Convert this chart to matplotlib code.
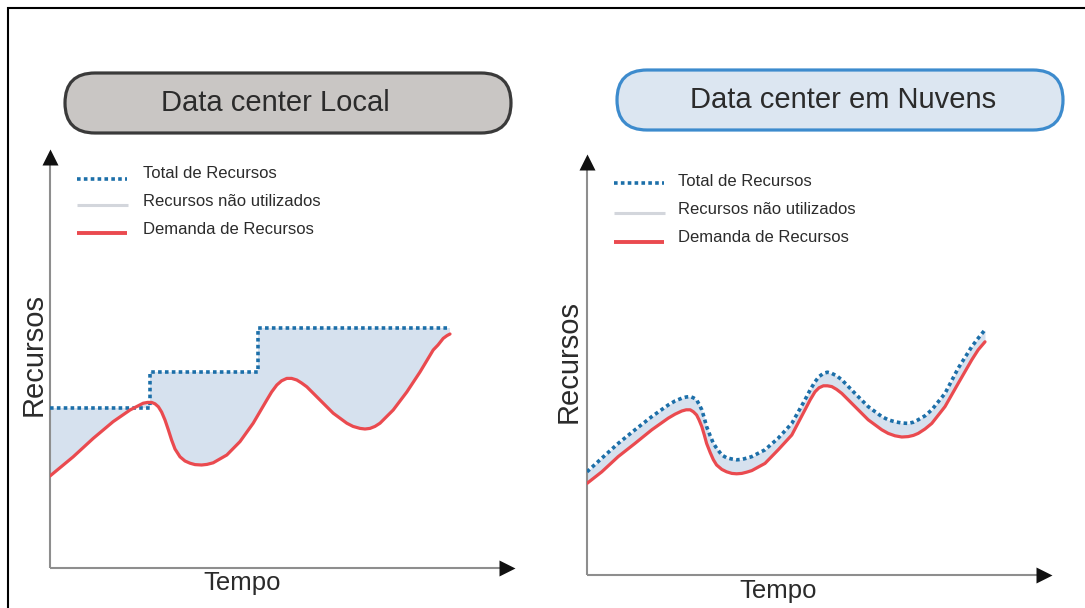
import numpy as np
import matplotlib
matplotlib.use("Agg")
import matplotlib.pyplot as plt
from matplotlib.patches import FancyBboxPatch

plt.rcParams['font.family'] = ['Liberation Sans', 'DejaVu Sans']

# ------------------------------------------------------------------
# Dados (tempo 0-100, recursos em unidades arbitrárias)
# Data center Local
local_total_x = [0, 25, 52, 100]
local_total_y = [40, 49, 60, 60]

local_demanda_x = [0, 5.8, 10.8, 15.8, 20, 21.75, 23.3, 24.4, 25.4, 26.25,
                   27.1, 27.9, 28.75, 29.6, 30.4, 31.25, 32.5, 33.75, 35,
                   36.25, 37.9, 39.25, 40.8, 44.2, 47.5, 50.8, 54.2, 55.4,
                   56.7, 57.9, 59.2, 60.4, 61.7, 62.9, 64.2, 67.5, 70.8, 74.2,
                   75.75, 77.5, 78.75, 80, 81.25, 82.5, 85.8, 89.2, 92.5, 95.8,
                   97, 98.3, 99.25, 100]
local_demanda_y = [23, 27.8, 32.4, 36.6, 39.5, 40.4, 41.2, 41.4, 41.4, 41.05,
                   40.3, 39, 37, 34.5, 32, 29.75, 27.8, 26.75, 26.2,
                   25.85, 25.75, 25.9, 26.3, 28.25, 31.6, 36.2, 42, 44,
                   45.75, 46.8, 47.4, 47.4, 47, 46.25, 45.3, 42, 38.7, 36.2,
                   35.4, 34.9, 34.75, 34.9, 35.4, 36.2, 39.5, 44, 49, 54.5,
                   55.75, 57.4, 58.1, 58.5]

# Data center em Nuvens
nuvem_x = [0, 3.7, 7.8, 12, 16.2, 20.3, 22, 23.7, 24.8, 25.8, 26.6, 27.4, 28,
           28.7, 29.3, 29.9, 30.8, 31.6, 32.4, 33.7, 34.9, 36.2, 37.4, 38.7,
           39.9, 41.2, 44.5, 47.8, 51.2, 54.5, 55.8, 57, 58, 59.1, 60.1, 61.2,
           62.4, 63.7, 67, 70.3, 73.7, 75.3, 77, 78.7, 80.3, 81.6, 82.8, 84.5,
           86.2, 89.5, 92.8, 96.2, 97.8, 99.5]
nuvem_total = [25.8, 29.2, 32.9, 36.3, 39.6, 42.5, 43.5, 44.2, 44.5, 44.6,
               44.3, 43.8, 42.7, 41.3, 39.3, 37.1, 34.8, 32.9, 31.7, 30, 29.3,
               29, 28.8, 28.9, 29.2, 29.6, 31.3, 34.2, 37.9, 43.8, 46.3, 48.3,
               49.6, 50.4, 50.7, 50.4, 49.8, 48.8, 45.4, 42.1, 39.6, 38.8,
               38.3, 38, 37.9, 38.2, 38.8, 39.8, 41.3, 45.4, 51.7, 57.1, 59.2,
               61.3]
nuvem_demanda = [22.9, 25.8, 29.6, 32.9, 36.3, 39.2, 40.2, 41, 41.3, 41.3,
                 40.8, 40, 38.8, 37.1, 35.1, 32.9, 30.6, 28.8, 27.5, 26.4,
                 25.8, 25.4, 25.3, 25.4, 25.7, 26.1, 27.9, 31.3, 35, 41.3,
                 43.8, 45.8, 46.8, 47.3, 47.3, 47.1, 46.4, 45.4, 42.1, 38.8,
                 36.3, 35.4, 34.8, 34.5, 34.6, 34.9, 35.4, 36.5, 37.9, 42.1,
                 47.9, 53.8, 56.3, 58.3]

titulos = ["Data center Local", "Data center em Nuvens"]
legendas = ["Total de Recursos", "Recursos não utilizados", "Demanda de Recursos"]
rotulo_y = "Recursos"
rotulo_x = "Tempo"

# ------------------------------------------------------------------
# Cores
AZUL = '#1c6fa9'
VERMELHO = '#ea4a4f'
PREENCHIMENTO = '#d6e1ee'
CINZA_LEG = '#d3d6dc'
CINZA_EIXO = '#8e8e8e'
TEXTO = '#2b2b2b'
PONTILHADO = (0, (1, 0.9))

W, H = 1085, 608
fig = plt.figure(figsize=(W / 100, H / 100), dpi=100)

# eixo de fundo em pixels (moldura, títulos, legendas)
bg = fig.add_axes([0, 0, 1, 1], zorder=0)
bg.set_xlim(0, W)
bg.set_ylim(H, 0)
bg.axis('off')

# moldura (só esquerda e topo)
bg.plot([7.7, 7.7, W], [H, 7.7, 7.7], color='black', lw=1.5,
        solid_capstyle='butt', solid_joinstyle='miter')

# cápsulas dos títulos
caps = [
    dict(x=65, y=73, w=446, h=60, face='#c9c6c4', edge='#3a3a3a', tx=275, ty=103),
    dict(x=617, y=70, w=446, h=60, face='#dce6f1', edge='#3d8bcd', tx=843, ty=100),
]
for c, titulo in zip(caps, titulos):
    p = FancyBboxPatch((c['x'], c['y']), c['w'], c['h'],
                       boxstyle=f"round,pad=0,rounding_size={c['h'] / 2}",
                       facecolor=c['face'], edgecolor=c['edge'], lw=2.3)
    bg.add_patch(p)
    bg.text(c['tx'], c['ty'], titulo, fontsize=21, color=TEXTO,
            ha='center', va='center')

# legendas desenhadas à mão
leg_pos = [
    dict(x0=77, x1=127, tx=143, rows=[(179, 174), (205, 202), (233, 229)]),
    dict(x0=614, x1=664, tx=678, rows=[(183, 181), (213, 209), (242, 237)]),
]
for lp in leg_pos:
    (y0, t0), (y1, t1), (y2, t2) = lp['rows']
    bg.plot([lp['x0'], lp['x1']], [y0, y0], color=AZUL, lw=2.6,
            linestyle=PONTILHADO)
    bg.plot([lp['x0'], lp['x1'] + 1], [y1, y1], color=CINZA_LEG, lw=2.2,
            solid_capstyle='butt')
    bg.plot([lp['x0'], lp['x1']], [y2, y2], color=VERMELHO, lw=2.8,
            solid_capstyle='butt')
    for t, txt in zip((t0, t1, t2), legendas):
        bg.text(lp['tx'], t, txt, fontsize=12, color=TEXTO, ha='left',
                va='center')


def eixos(ax, ytop):
    ax.set_xlim(0, 116)
    ax.set_ylim(0, ytop)
    ax.axis('off')
    # eixos com setas
    ax.plot([0, 113], [0, 0], color=CINZA_EIXO, lw=1.5, clip_on=False,
            solid_capstyle='butt')
    ax.plot([0, 0], [0, ytop - 3], color=CINZA_EIXO, lw=1.5, clip_on=False,
            solid_capstyle='butt')
    ax.plot([114.2], [0], marker='>', ms=12, color='#111111', mec='none',
            clip_on=False)
    ax.plot([0], [ytop - 2.2], marker='^', ms=12, color='#111111', mec='none',
            clip_on=False)


# ---- Painel esquerdo: Data center Local
ax1 = fig.add_axes([50 / W, (H - 568) / H, 464 / W, 420 / H], zorder=1)
eixos(ax1, 105)
sx = np.repeat(local_total_x, 2)[1:]
sy = np.repeat(local_total_y, 2)[:-1]
ax1.fill(np.concatenate([sx, local_demanda_x[::-1]]),
         np.concatenate([sy, local_demanda_y[::-1]]),
         color=PREENCHIMENTO, lw=0)
ax1.step(local_total_x, local_total_y, where='post', color=AZUL, lw=2.6,
         linestyle=PONTILHADO)
ax1.plot(local_demanda_x, local_demanda_y, color=VERMELHO, lw=2.3,
         solid_joinstyle='round', solid_capstyle='round')
ax1.text(-4, 53.5, rotulo_y, rotation=90, fontsize=21, color=TEXTO,
         ha='center', va='center')
ax1.text(48, -3.8, rotulo_x, fontsize=18.5, color=TEXTO, ha='center',
         va='center')

# ---- Painel direito: Data center em Nuvens
ax2 = fig.add_axes([587 / W, (H - 575) / H, 464 / W, 422 / H], zorder=1)
eixos(ax2, 105.5)
ax2.fill_between(nuvem_x, nuvem_demanda, nuvem_total, color=PREENCHIMENTO,
                 lw=0)
ax2.plot(nuvem_x, nuvem_total, color=AZUL, lw=2.6, linestyle=PONTILHADO)
ax2.plot(nuvem_x, nuvem_demanda, color=VERMELHO, lw=2.3,
         solid_joinstyle='round', solid_capstyle='round')
ax2.text(-4.5, 53.3, rotulo_y, rotation=90, fontsize=21, color=TEXTO,
         ha='center', va='center')
ax2.text(47.8, -4, rotulo_x, fontsize=18.5, color=TEXTO, ha='center',
         va='center')

fig.savefig('out.png', dpi=100)
